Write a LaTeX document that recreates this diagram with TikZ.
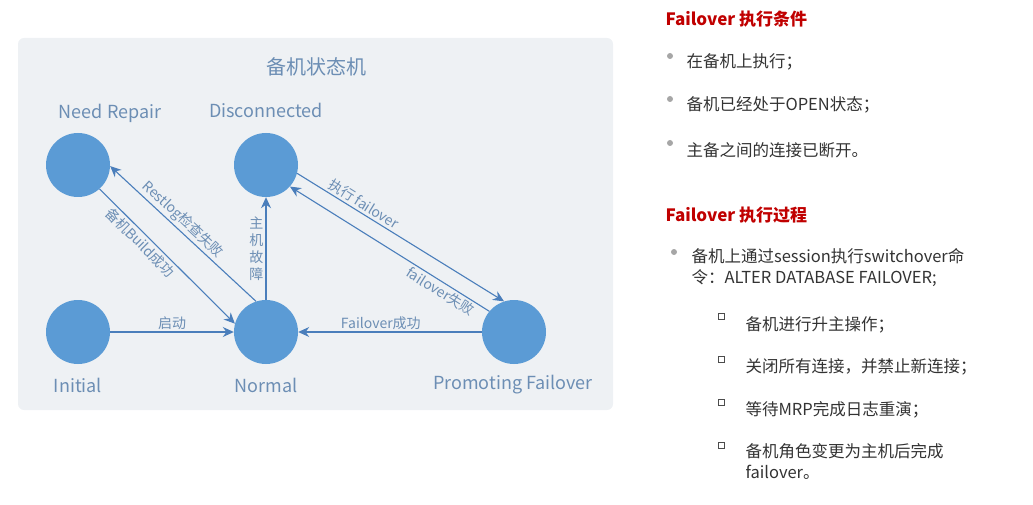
\documentclass[tikz,border=0pt]{standalone}
\usepackage{fontspec}
\setmainfont{Noto Sans CJK SC}
\usetikzlibrary{arrows.meta}
\definecolor{statefill}{HTML}{5B9BD5}
\definecolor{edgeblue}{HTML}{4A7EBB}
\definecolor{labelblue}{HTML}{6C8EB4}
\definecolor{panelgray}{HTML}{EEF1F4}
\definecolor{headred}{HTML}{C00000}
\tikzset{
  state/.style={circle,fill=statefill,minimum size=64pt,inner sep=0pt},
  statename/.style={text=labelblue,font=\fontsize{18}{20}\selectfont},
  edge/.style={draw=edgeblue,line width=1.1pt,-{Stealth[length=11pt,width=10pt]}},
  edgelabel/.style={text=labelblue,font=\fontsize{14}{16}\selectfont,inner sep=2pt},
  head/.style={text=headred,font=\bfseries\fontsize{17}{19}\selectfont,anchor=west},
  item/.style={text=black!80,font=\fontsize{16.5}{21}\selectfont,anchor=west,align=left},
  dot/.style={circle,fill=gray!70,inner sep=0pt,minimum size=6pt},
  sq/.style={draw=black!70,line width=0.9pt,inner sep=0pt,minimum size=6pt}
}
\begin{document}
\begin{tikzpicture}[x=1pt,y=-1pt]
  \useasboundingbox (0,0) rectangle (1033,505);
  \fill[panelgray,rounded corners=6pt] (18,38) rectangle (613,410);
  \node[text=labelblue,font=\fontsize{20}{22}\selectfont] (title) at (316,67) {备机状态机};
  % states
  \node[state] (repair) at (78,165) {};
  \node[state] (disc) at (266,165) {};
  \node[state] (init) at (78,332) {};
  \node[state] (normal) at (266,332) {};
  \node[state] (promo) at (514,332) {};
  \node[statename] (repairname) at (110,113) {Need Repair};
  \node[statename] (discname) at (266,110) {Disconnected};
  \node[statename] (initname) at (78,385) {Initial};
  \node[statename] (normalname) at (266,385) {Normal};
  \node[statename] (promoname) at (513,385) {Promoting Failover};
  % transitions
  \draw[edge] (init) -- node[edgelabel,above] {启动} (normal);
  \draw[edge] (promo) -- node[edgelabel,above,pos=0.55] {Failover成功} (normal);
  \draw[edge] (normal) -- node[edgelabel,left,align=center,font=\fontsize{14}{17}\selectfont] {主\\机\\故\\障} (disc);
  \draw[edge] (repair.-48) -- node[edgelabel,sloped,below,pos=0.35] {备机Build成功} (normal.165);
  \draw[edge] (normal.108) -- node[edgelabel,sloped,above,pos=0.55] {Restlog检查失败} (repair.-2);
  \draw[edge] (disc.-15) -- node[edgelabel,sloped,above,pos=0.3] {执行 failover} (promo.108);
  \draw[edge] (promo.140) -- node[edgelabel,sloped,below,pos=0.22] {failover失败} (disc.-42);
  % conditions
  \node[head] (head1) at (662,19) {Failover 执行条件};
  \node[dot] (d1) at (670,56) {};
  \node[item] (c1) at (683,62) {在备机上执行；};
  \node[dot] (d2) at (670,99) {};
  \node[item] (c2) at (683,105) {备机已经处于OPEN状态；};
  \node[dot] (d3) at (670,143) {};
  \node[item] (c3) at (683,150) {主备之间的连接已断开。};
  \node[head] (head2) at (662,215) {Failover 执行过程};
  \node[dot] (d4) at (674,252) {};
  \node[item,anchor=north west] (p1) at (688,245) {备机上通过session执行switchover命\\令：ALTER DATABASE FAILOVER;};
  \node[sq] (s1) at (721,316) {};
  \node[item] (q1) at (742,325) {备机进行升主操作；};
  \node[sq] (s2) at (721,359) {};
  \node[item] (q2) at (742,367) {关闭所有连接，并禁止新连接；};
  \node[sq] (s3) at (721,402) {};
  \node[item] (q3) at (742,410) {等待MRP完成日志重演；};
  \node[sq] (s4) at (721,445) {};
  \node[item,anchor=north west] (q4) at (742,440) {备机角色变更为主机后完成\\failover。};
\end{tikzpicture}
\end{document}
